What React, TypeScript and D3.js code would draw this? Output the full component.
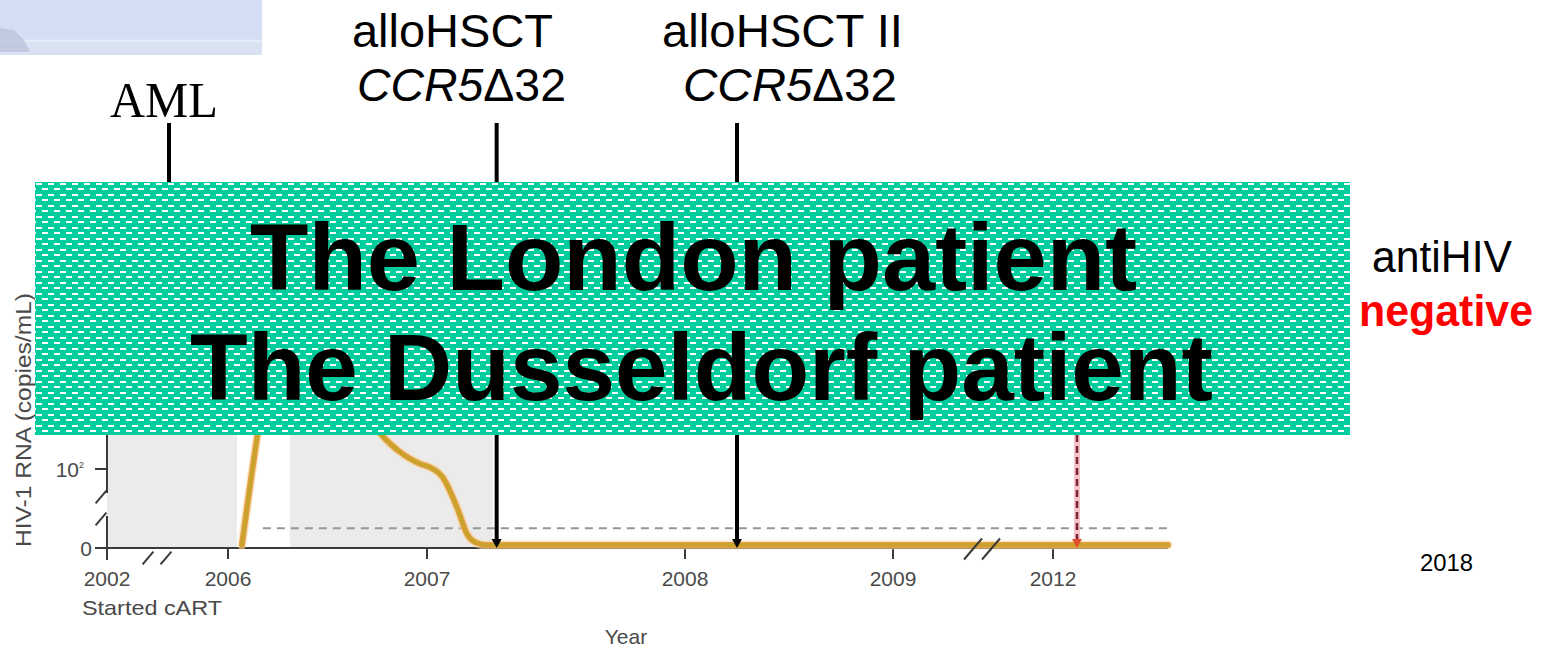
import React from "react";
import * as d3 from "d3";

// broken time axis: one slot per labelled year
const axisYears = [2002, 2006, 2007, 2008, 2009, 2012, 2013];
const tickYears = [2002, 2006, 2007, 2008, 2009, 2012];
const tickLabels = ["2002", "2006", "2007", "2008", "2009", "2012"];

// HIV-1 RNA, log10 copies/mL (0 = undetectable)
const loadYears = [2006.07, 2006.17, 2006.3, 2006.55, 2006.76, 2006.85, 2006.97, 2007.01, 2007.06, 2007.12, 2007.155, 2007.19, 2007.23, 2012.575];
const loadLog = [0, 2.98, 5.0, 4.2, 2.57, 2.27, 2.03, 1.97, 1.72, 0.89, 0.28, 0.06, 0, 0];

const shadeStarts = [2002, 2006.31];
const shadeEnds = [2006.045, 2007.255];

const detectionLimit = 0.5;
const limitStart = 2006.175;
const limitEnd = 2012.575;

const eventYears = [2004.05, 2007.27, 2008.25];
const transplantYears = [2007.27, 2008.25];
const antiHivYear = 2012.12;

const yTickValues = [0, 2];
const titleLines = ["The London patient", "The Dusseldorf patient"];

const SANS = "'Liberation Sans', Arial, sans-serif";
const SERIF = "'Liberation Serif', 'Times New Roman', serif";

export default function App() {
  const width = 1545;
  const height = 647;

  const x = d3.scaleLinear().domain(axisYears).range([107, 228, 427, 685, 893, 1053, 1253]);
  const y = d3.scaleLinear().domain([0, 2, 7]).range([548, 469, 169]);

  const box = { x: 35, y: 182, w: 1315, h: 253 };
  const axisY = y(0);
  const axisX = x(2002);

  const loadPoints: [number, number][] = loadYears.map((yr, i) => [x(yr), y(loadLog[i])]);
  const loadPath = d3.line().curve(d3.curveMonotoneX)(loadPoints) || "";

  const arrowHead = (cx: number, tip: number) =>
    `M${cx - 5},${tip - 9}L${cx + 5},${tip - 9}L${cx},${tip}Z`;

  const slash = (cx: number, cy: number, len = 9) =>
    `M${cx - len * 0.6},${cy + len * 0.7}L${cx + len * 0.6},${cy - len * 0.7}`;

  return (
    <svg width={width} height={height} style={{ position: "absolute", left: 0, top: 0, background: "#fff" }}>
      <defs>
        <pattern id="tealDash" x={box.x} y={box.y} width={12} height={11} patternUnits="userSpaceOnUse">
          <rect width={12} height={11} fill="#00cd9d" />
          <rect x={1} y={1} width={6} height={2} fill="#ffffff" />
          <rect x={7} y={6} width={5} height={2} fill="#ffffff" />
          <rect x={0} y={6} width={1} height={2} fill="#ffffff" />
        </pattern>
      </defs>

      {/* slide decoration top-left */}
      <rect x={0} y={0} width={262} height={55} fill="#d4dff5" />
      <rect x={0} y={38} width={262} height={17} fill="#d9e2f2" />
      <rect x={0} y={40} width={262} height={2} fill="#e6ecf7" />
      <path d="M0,28 L14,30 L24,40 L30,52 L0,52 Z" fill="#b7c0d6" opacity={0.7} />

      {/* shaded periods */}
      {shadeStarts.map((s, i) => (
        <rect key={i} x={x(s)} y={box.y} width={x(shadeEnds[i]) - x(s)} height={axisY - box.y} fill="#ebebeb" />
      ))}

      {/* detection limit */}
      <line
        x1={x(limitStart)}
        x2={x(limitEnd)}
        y1={y(detectionLimit)}
        y2={y(detectionLimit)}
        stroke="#8f9a96"
        strokeWidth={2}
        strokeDasharray="8 6"
      />

      {/* y axis with break */}
      <g stroke="#3a3a3a" strokeWidth={2} fill="none">
        <line x1={axisX} x2={axisX} y1={box.y} y2={493} />
        <line x1={axisX} x2={axisX} y1={516} y2={560} />
        <path d={slash(101, 497)} />
        <path d={slash(101, 519)} />
        {yTickValues.map((v) => (
          <line key={v} x1={axisX - 12} x2={axisX} y1={y(v)} y2={y(v)} />
        ))}
        <line x1={axisX} x2={x(limitEnd)} y1={axisY} y2={axisY} />
        {tickYears.slice(1).map((t) => (
          <line key={t} x1={x(t)} x2={x(t)} y1={axisY} y2={axisY + 11} />
        ))}
        <path d={slash(148, 558)} />
        <path d={slash(166, 558)} />
      </g>

      <g fill="#4a4a4a" fontFamily={SANS} fontSize={21}>
        <text x={86} y={y(0) + 8} textAnchor="middle">0</text>
        <text x={84} y={y(2) + 8} textAnchor="end">
          10<tspan fontSize={9} dy={-9}>2</tspan>
        </text>
        {tickYears.map((t, i) => (
          <text key={t} x={x(t)} y={586} textAnchor="middle">{tickLabels[i]}</text>
        ))}
        <text x={82} y={615} textLength={140} lengthAdjust="spacingAndGlyphs">Started cART</text>
        <text x={626} y={644} textAnchor="middle">Year</text>
        <text
          transform="translate(31,420) rotate(-90)"
          textAnchor="middle"
          fontSize={22}
          textLength={254}
          lengthAdjust="spacingAndGlyphs"
        >
          HIV-1 RNA (copies/mL)
        </text>
      </g>

      {/* viral load */}
      <g transform="translate(0,-3)" fill="none" strokeLinejoin="round" strokeLinecap="round">
        <path d={loadPath} stroke="#f6d9a6" strokeWidth={9} opacity={0.6} />
        <path d={loadPath} stroke="#e3a044" strokeWidth={6} />
        <path d={loadPath} stroke="#c9a22c" strokeWidth={3.5} />
      </g>
      <g stroke="#3a3a3a" strokeWidth={2}>
        <path d={slash(973, 549, 15)} />
        <path d={slash(991, 549, 15)} />
      </g>

      {/* transplant arrows */}
      {transplantYears.map((t) => (
        <g key={t}>
          <line x1={x(t)} x2={x(t)} y1={box.y} y2={axisY - 7} stroke="#000" strokeWidth={4} />
          <path d={arrowHead(x(t), axisY)} fill="#000" />
        </g>
      ))}

      {/* antiHIV negative arrow */}
      <line x1={x(antiHivYear)} x2={x(antiHivYear)} y1={box.y} y2={axisY - 8} stroke="#f5b3c0" strokeWidth={6} opacity={0.8} />
      <line
        x1={x(antiHivYear)}
        x2={x(antiHivYear)}
        y1={box.y}
        y2={axisY - 8}
        stroke="#7a2434"
        strokeWidth={2.5}
        strokeDasharray="7 4"
      />
      <path d={arrowHead(x(antiHivYear), axisY)} fill="#e0502e" />

      {/* event ticks above the banner */}
      {eventYears.map((t) => (
        <line key={t} x1={x(t)} x2={x(t)} y1={123} y2={box.y} stroke="#000" strokeWidth={4} />
      ))}
      <text x={110} y={117} fontFamily={SERIF} fontSize={50} textLength={108} lengthAdjust="spacingAndGlyphs">
        AML
      </text>
      <g fontFamily={SANS} fontSize={47} fill="#000">
        <text x={352} y={47} textLength={201} lengthAdjust="spacingAndGlyphs">alloHSCT</text>
        <text x={357} y={101} textLength={209} lengthAdjust="spacingAndGlyphs">
          <tspan fontStyle="italic">CCR5</tspan>Δ32
        </text>
        <text x={662} y={47} textLength={241} lengthAdjust="spacingAndGlyphs">alloHSCT II</text>
        <text x={683} y={101} textLength={214} lengthAdjust="spacingAndGlyphs">
          <tspan fontStyle="italic">CCR5</tspan>Δ32
        </text>
      </g>

      {/* banner */}
      <rect x={box.x} y={box.y} width={box.w} height={box.h} fill="url(#tealDash)" />
      <g fontFamily={SANS} fontWeight="bold" fontSize={95} fill="#000">
        <text x={250} y={290} textLength={887} lengthAdjust="spacingAndGlyphs">{titleLines[0]}</text>
        <text x={190} y={400} textLength={1023} lengthAdjust="spacingAndGlyphs">{titleLines[1]}</text>
      </g>

      {/* right side notes */}
      <g fontFamily={SANS}>
        <text x={1372} y={272} fontSize={45} textLength={140} lengthAdjust="spacingAndGlyphs" fill="#000">
          antiHIV
        </text>
        <text x={1359} y={326} fontSize={45} fontWeight="bold" textLength={174} lengthAdjust="spacingAndGlyphs" fill="#ff0000">
          negative
        </text>
        <text x={1420} y={571} fontSize={23} textLength={53} lengthAdjust="spacingAndGlyphs" fill="#000">
          2018
        </text>
      </g>
    </svg>
  );
}
